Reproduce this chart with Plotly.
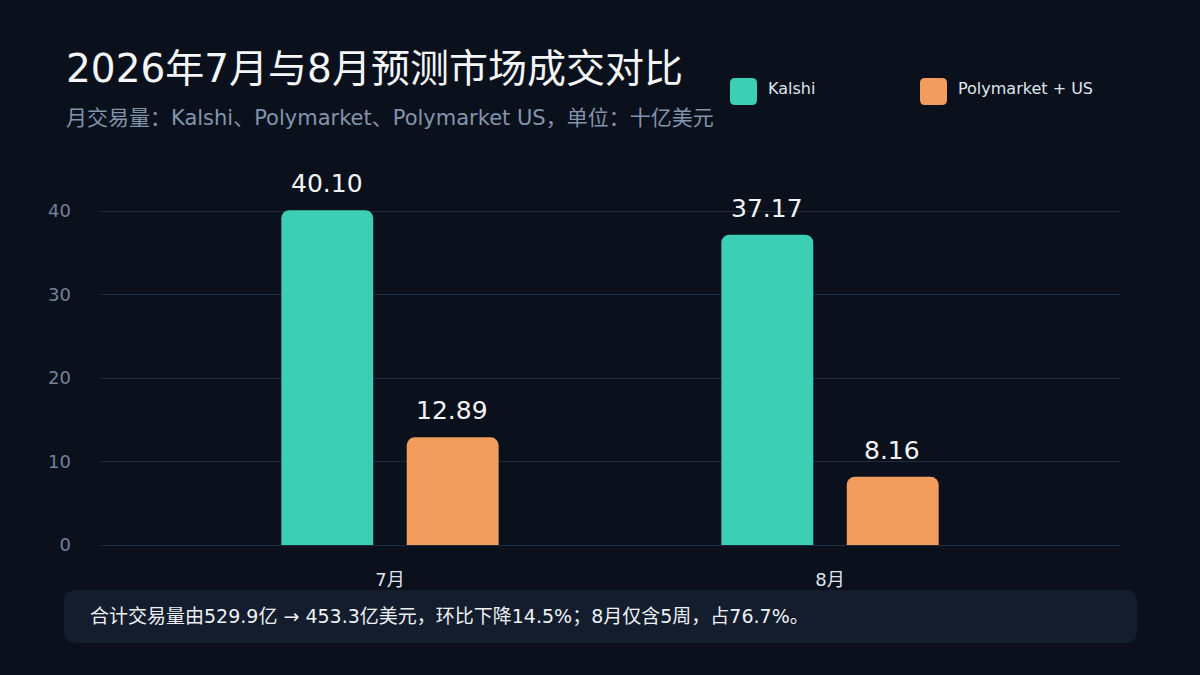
import plotly.graph_objects as go

months = ["7月", "8月"]
kalshi = [40.10, 37.17]
poly_us = [12.89, 8.16]
series_names = ["Kalshi", "Polymarket + US"]
y_ticks = [0, 10, 20, 30, 40]

title_text = "2026年7月与8月预测市场成交对比"
subtitle_text = "月交易量：Kalshi、Polymarket、Polymarket US，单位：十亿美元"
footer_text = "合计交易量由529.9亿 → 453.3亿美元，环比下降14.5%；8月仅含5周，占76.7%。"

BG = "#0a111c"
TEAL = "#3ccfb6"
ORANGE = "#f29c5e"
FONT = "DejaVu Sans, Noto Sans CJK SC, sans-serif"

W, H = 1200, 675
L, R, T, B = 100, 80, 170, 130
PW, PH = W - L - R, H - T - B


def px(x):
    return (x - L) / PW


def py(y):
    return (H - B - y) / PH


def rounded_rect(x0, y0, x1, y1, r):
    def P(x, y):
        return f"{px(x):.5f},{py(y):.5f}"
    return (f"M {P(x0+r, y0)} L {P(x1-r, y0)} Q {P(x1, y0)} {P(x1, y0+r)} "
            f"L {P(x1, y1-r)} Q {P(x1, y1)} {P(x1-r, y1)} L {P(x0+r, y1)} "
            f"Q {P(x0, y1)} {P(x0, y1-r)} L {P(x0, y0+r)} Q {P(x0, y0)} {P(x0+r, y0)} Z")


fig = go.Figure()
fig.add_trace(go.Bar(
    x=months, y=kalshi, name=series_names[0], marker=dict(color=TEAL, line=dict(width=0)),
    showlegend=False, hoverinfo="x+y+name",
))
fig.add_trace(go.Bar(
    x=months, y=poly_us, name=series_names[1], marker=dict(color=ORANGE, line=dict(width=0)),
    showlegend=False, hoverinfo="x+y+name",
))

# value labels above bars (placed at data coordinates)
for vals, shift in [(kalshi, -63), (poly_us, 62)]:
    for m, v in zip(months, vals):
        fig.add_annotation(x=m, y=v, xref="x", yref="y", text=f"{v:.2f}", showarrow=False,
                           xanchor="center", yanchor="bottom", xshift=shift, yshift=10,
                           font=dict(size=25, color="#f2f4f7", family=FONT))

# custom legend
for nm, col, xp in [(series_names[0], TEAL, 730), (series_names[1], ORANGE, 920)]:
    fig.add_shape(type="path", xref="paper", yref="paper", path=rounded_rect(xp, 78, xp + 27, 105, 5),
                  fillcolor=col, line=dict(width=0), layer="above")
    fig.add_annotation(x=px(xp + 36), y=py(88), xref="paper", yref="paper",
                       text=nm, showarrow=False, xanchor="left", yanchor="middle",
                       font=dict(size=16, color="#dfe5ee", family=FONT))

# footer box
fig.add_shape(type="path", xref="paper", yref="paper", path=rounded_rect(64, 590, 1137, 643, 12),
              fillcolor="#131d2d", line=dict(width=0), layer="below")

fig.add_annotation(x=px(64), y=py(69), xref="paper", yref="paper", text=title_text,
                   showarrow=False, xanchor="left", yanchor="middle",
                   font=dict(size=39, color="#f4f6f8", family=FONT))
fig.add_annotation(x=px(64), y=py(118), xref="paper", yref="paper", text=subtitle_text,
                   showarrow=False, xanchor="left", yanchor="middle",
                   font=dict(size=21, color="#8394ad", family=FONT))
fig.add_annotation(x=px(88), y=py(616), xref="paper", yref="paper", text=footer_text,
                   showarrow=False, xanchor="left", yanchor="middle",
                   font=dict(size=19, color="#eef1f5", family=FONT))

fig.update_layout(
    width=W, height=H,
    paper_bgcolor=BG, plot_bgcolor=BG,
    margin=dict(l=L, r=R, t=T, b=B),
    barmode="group", bargap=0.43, bargroupgap=0.267, barcornerradius=8,
    font=dict(family=FONT, color="#8394ad"),
    showlegend=False,
    xaxis=dict(range=[-0.659, 1.659], showgrid=False, zeroline=False, showline=False,
               ticks="", tickfont=dict(size=18, color="#dfe5ee", family=FONT), ticklabelstandoff=22),
    yaxis=dict(range=[0, 40 * (545 - 170) / (545 - 211)], tickvals=y_ticks,
               showgrid=True, gridcolor="#1f2b3b", gridwidth=1, zeroline=True,
               zerolinecolor="#1f2b3b", zerolinewidth=1, showline=False, ticks="",
               tickfont=dict(size=18, color="#71829b", family=FONT), ticklabelstandoff=28),
)

fig.write_html("out.html", config={"displayModeBar": False},
               post_script="document.body.style.margin='0';document.body.style.background='" + BG + "';")
